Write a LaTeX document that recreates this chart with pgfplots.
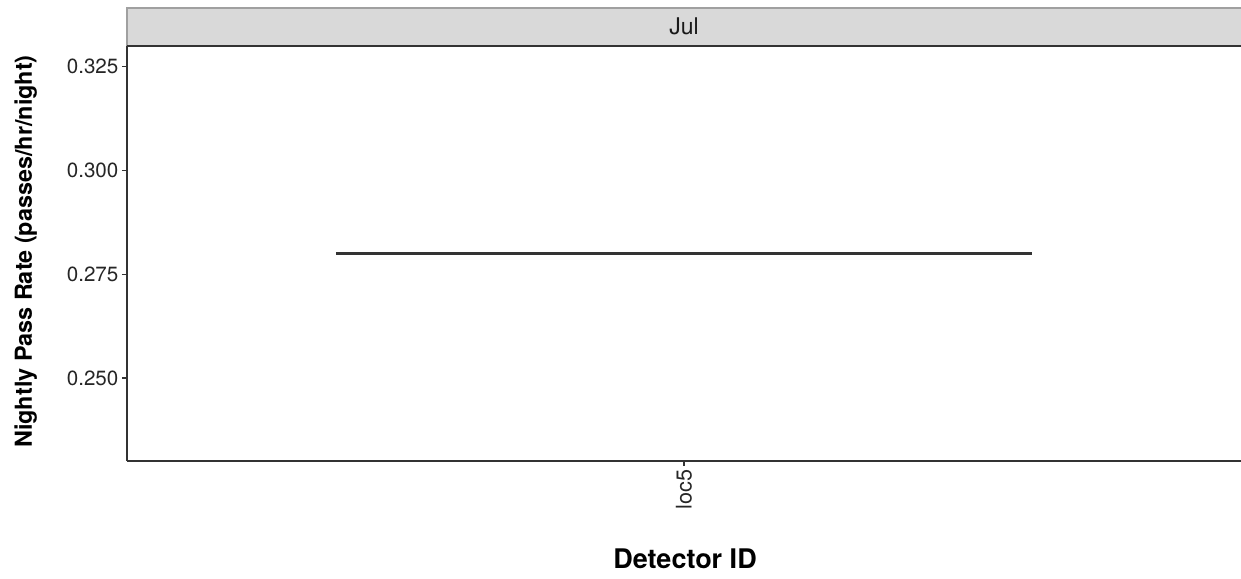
\documentclass[border=0pt]{standalone}
\usepackage{fontspec}
\setmainfont{TeX Gyre Heros}
\usepackage{pgfplots}
\pgfplotsset{compat=1.18}

\definecolor{stripfill}{HTML}{D9D9D9}
\definecolor{stripedge}{HTML}{A0A0A0}
\definecolor{ink}{HTML}{333333}
\definecolor{ticktext}{HTML}{262626}

\begin{document}
\begin{tikzpicture}
  \useasboundingbox (0,0) rectangle (620.5pt,289pt);

  % facet strip
  \fill[stripfill] (63.5pt,266pt) rectangle (620.5pt,285pt);
  \draw[stripedge, line width=0.8pt] (620.5pt,285pt) -- (63.5pt,285pt) -- (63.5pt,266pt);
  \draw[ink, line width=0.9pt] (63.5pt,266pt) -- (620.5pt,266pt);
  \node[anchor=base, font=\fontsize{11.5}{13}\selectfont, text=black!90] at (342pt,271.5pt) {Jul};

  \begin{axis}[
    at={(63.5pt,58.5pt)}, anchor=south west,
    scale only axis,
    width=557pt, height=207.5pt,
    xmin=0.4, xmax=1.6,
    ymin=0.23, ymax=0.33,
    axis x line=bottom, axis y line=left,
    axis line style={-, ink, line width=0.9pt},
    xtick={1}, xticklabels={loc5},
    ytick={0.25,0.275,0.3,0.325},
    tick align=outside,
    major tick length=2.6pt,
    tick style={ink, line width=0.6pt},
    /pgf/number format/assume math mode=true,
    /pgf/number format/fixed,
    /pgf/number format/fixed zerofill,
    /pgf/number format/precision=3,
    ticklabel style={text=ticktext},
    yticklabel style={font=\fontsize{10.3}{12}\selectfont, inner sep=1.5pt},
    xticklabel style={font=\fontsize{10.8}{12}\selectfont, rotate=90, anchor=east, inner sep=1.5pt},
    clip=false,
  ]
    % loc5 has a single observation: its box collapses to the median line (0.28), width 0.75
    \addplot[ink, line width=1.6pt, mark=none] coordinates {(0.625,0.28) (1.375,0.28)};
  \end{axis}

  % axis titles
  \node[anchor=base, rotate=90, font=\fontsize{11.7}{13}\selectfont\bfseries] at (16pt,163.25pt) {Nightly Pass Rate (passes/hr/night)};
  \node[anchor=base, font=\fontsize{13.5}{15}\selectfont\bfseries] at (342.5pt,5pt) {Detector ID};
\end{tikzpicture}
\end{document}
